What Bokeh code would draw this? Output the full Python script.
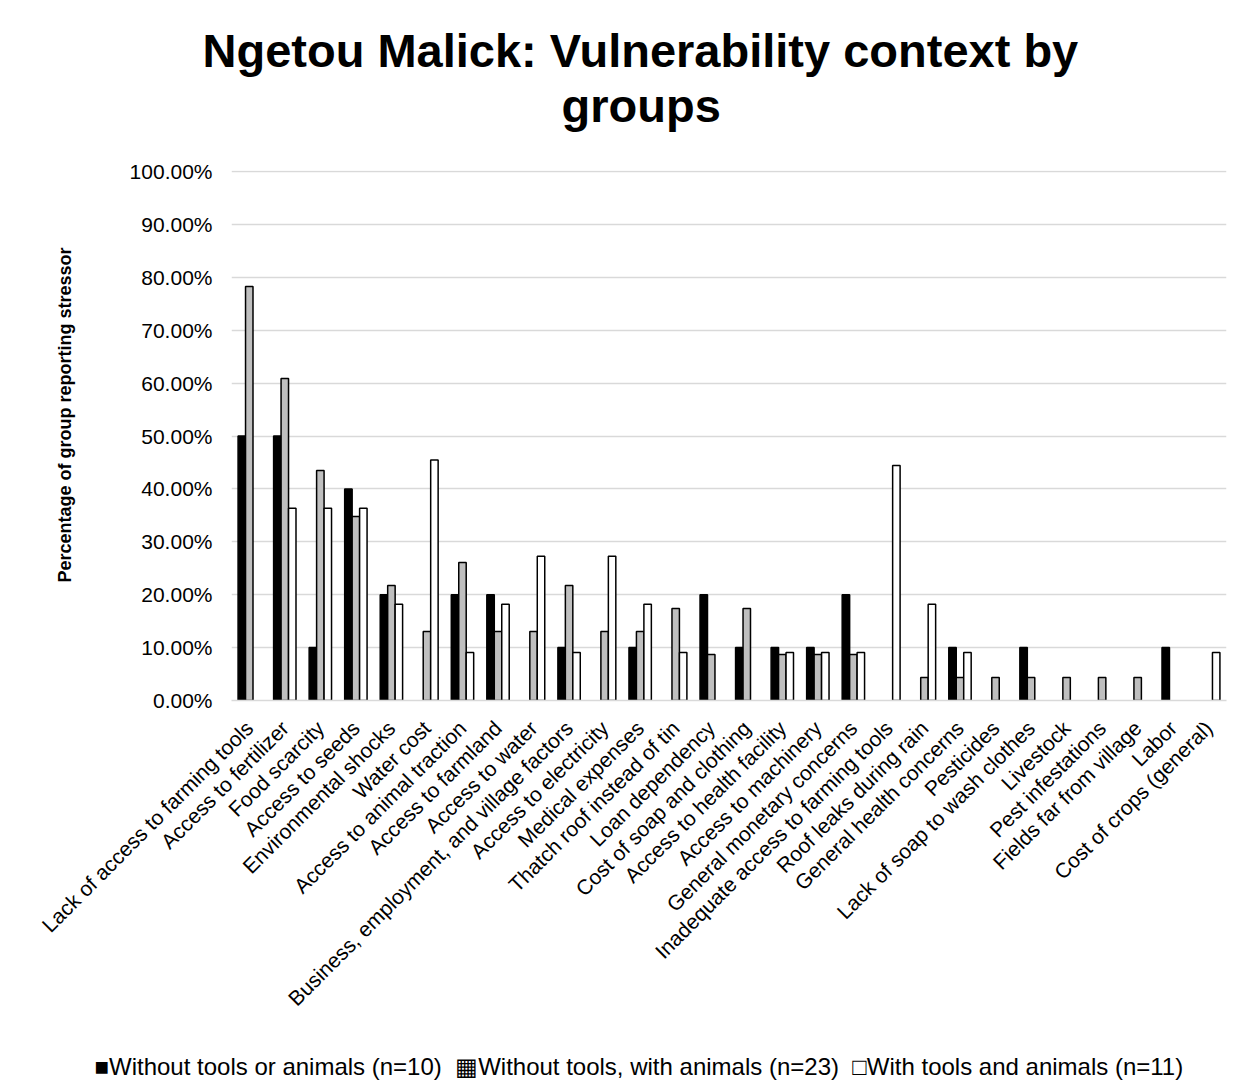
import math
from bokeh.plotting import figure
from bokeh.models import (ColumnDataSource, Range1d, FactorRange, FixedTicker,
                          NumeralTickFormatter, Title)
from bokeh.transform import dodge
from bokeh.embed import file_html
from bokeh.resources import INLINE

categories = [
    "Lack of access to farming tools", "Access to fertilizer", "Food scarcity",
    "Access to seeds", "Environmental shocks", "Water cost",
    "Access to animal traction", "Access to farmland", "Access to water",
    "Business, employment, and village factors", "Access to electricity",
    "Medical expenses", "Thatch roof instead of tin", "Loan dependency",
    "Cost of soap and clothing", "Access to health facility",
    "Access to machinery", "General monetary concerns",
    "Inadequate access to farming tools", "Roof leaks during rain",
    "General health concerns", "Pesticides", "Lack of soap to wash clothes",
    "Livestock", "Pest infestations", "Fields far from village", "Labor",
    "Cost of crops (general)",
]

series_names = [
    "Without tools or animals (n=10)",
    "Without tools, with animals (n=23)",
    "With tools and animals (n=11)",
]
series_keys = ["\u25a0", "\u25a6", "\u25a1"]

# percentages
no_tools_no_animals = [50, 50, 10, 40, 20, 0, 20, 20, 0, 10, 0, 10, 0, 20,
                       10, 10, 10, 20, 0, 0, 10, 0, 10, 0, 0, 0, 10, 0]
no_tools_with_animals = [78.26, 60.87, 43.48, 34.78, 21.74, 13.04, 26.09, 13.04,
                         13.04, 21.74, 13.04, 13.04, 17.39, 8.70, 17.39, 8.70,
                         8.70, 8.70, 0, 4.35, 4.35, 4.35, 4.35, 4.35, 4.35, 4.35,
                         0, 0]
tools_and_animals = [0, 36.36, 36.36, 36.36, 18.18, 45.45, 9.09, 18.18, 27.27,
                     9.09, 27.27, 18.18, 9.09, 0, 0, 9.09, 9.09, 9.09, 44.44,
                     18.18, 9.09, 0, 0, 0, 0, 0, 0, 9.09]

y_ticks = [i / 10 for i in range(11)]

FONT = "Liberation Sans"
fills = ["#000000", "#bfbfbf", "#ffffff"]
offsets = [-0.21, 0.0, 0.21]
series = [no_tools_no_animals, no_tools_with_animals, tools_and_animals]


def make_source(vals):
    cats = [c for c, v in zip(categories, vals) if v > 0]
    tops = [v / 100 for v in vals if v > 0]
    return ColumnDataSource(dict(cat=cats, top=tops))


p = figure(x_range=FactorRange(*categories), y_range=Range1d(0, 1.002),
           width=1248, height=1082, output_backend="svg", toolbar_location=None,
           min_border_left=222, min_border_right=22, min_border_top=170,
           min_border_bottom=382)
p.title.text = ""
p.outline_line_color = None
p.styles = {"outline": "1px solid #d9d9d9", "outline-offset": "-7px"}

for vals, fc, off in zip(series, fills, offsets):
    p.vbar(x=dodge("cat", off, range=p.x_range), top="top", width=0.21,
           source=make_source(vals), fill_color=fc, line_color="black",
           line_width=1.5)

# axes
p.xaxis.major_label_orientation = math.pi / 4
p.xaxis.major_label_text_font = FONT
p.xaxis.major_label_text_font_size = "21px"
p.xaxis.major_label_text_color = "black"
p.xaxis.major_tick_line_color = None
p.xaxis.minor_tick_line_color = None
p.xaxis.axis_line_color = "#d9d9d9"
p.xaxis.axis_line_width = 1.5
p.xaxis.major_label_standoff = 18
# blank axis label used only as a gap between the category labels and the key
p.xaxis.axis_label = " "
p.xaxis.axis_label_text_font_size = "1px"
p.xaxis.axis_label_standoff = 24

p.yaxis.ticker = FixedTicker(ticks=y_ticks)
p.yaxis.formatter = NumeralTickFormatter(format="0.00%")
p.yaxis.major_label_text_font = FONT
p.yaxis.major_label_text_font_size = "21px"
p.yaxis.major_label_text_color = "black"
p.yaxis.major_tick_line_color = None
p.yaxis.minor_tick_line_color = None
p.yaxis.axis_line_color = None
p.yaxis.major_label_standoff = 13

p.xgrid.grid_line_color = None
p.ygrid.ticker = FixedTicker(ticks=y_ticks)
p.ygrid.grid_line_color = "#d9d9d9"
p.ygrid.grid_line_width = 1.5

# y axis title, outside the tick labels
p.add_layout(Title(text="Percentage of group reporting stressor", align="left",
                   offset=118, standoff=104, text_font=FONT,
                   text_font_size="18px", text_font_style="bold",
                   text_color="black"), "left")

# chart titles (first added is nearest the frame)
p.add_layout(Title(text=" ", text_font_size="1px", standoff=36), "above")
p.add_layout(Title(text="groups", align="left", offset=330, standoff=0,
                   text_font=FONT, text_font_size="47px", text_font_style="bold",
                   text_color="black"), "above")
p.add_layout(Title(text="Ngetou Malick: Vulnerability context by", align="left",
                   offset=-29, standoff=0, text_font=FONT, text_font_size="47px",
                   text_font_style="bold", text_color="black"), "above")

# series key below the category labels
key_text = "\u00a0\u00a0".join(k + n for k, n in zip(series_keys, series_names))
p.add_layout(Title(text=key_text, align="left", offset=-137, standoff=2,
                   text_font=FONT, text_font_size="24px",
                   text_font_style="normal", text_color="black"), "below")

open("out.html", "w").write(file_html(p, INLINE))
